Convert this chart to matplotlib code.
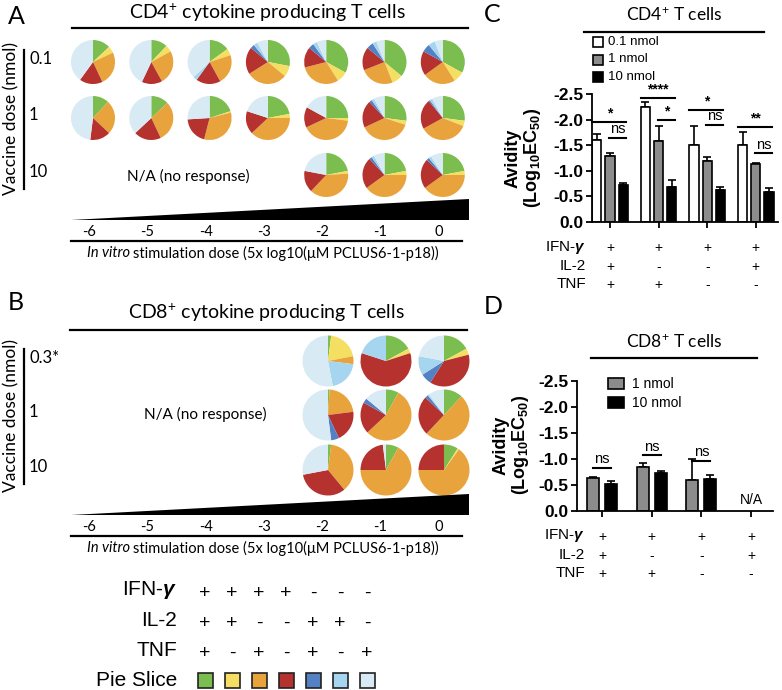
import numpy as np
import matplotlib.pyplot as plt
from matplotlib.patches import Rectangle, Polygon

# slice order: IFN/IL2/TNF combos, clockwise from 12 o'clock
SLICE_COLORS = ['#7cbd4f', '#f5df62', '#e9a33c', '#b5322f', '#5480c4', '#a5d5ef', '#d8eaf3']

# panel A pies (CD4), columns = stimulation dose -6 .. 0
DOSES = ['-6', '-5', '-4', '-3', '-2', '-1', '0']
A_01 = [[0.13, 0.05, 0.25, 0.17, 0.00, 0.00, 0.40],
        [0.12, 0.05, 0.25, 0.15, 0.00, 0.00, 0.43],
        [0.15, 0.05, 0.22, 0.18, 0.00, 0.03, 0.37],
        [0.28, 0.08, 0.30, 0.20, 0.03, 0.03, 0.08],
        [0.33, 0.08, 0.30, 0.15, 0.04, 0.03, 0.07],
        [0.36, 0.08, 0.25, 0.17, 0.05, 0.03, 0.06],
        [0.33, 0.08, 0.24, 0.18, 0.06, 0.05, 0.06]]
A_1 = [[0.12, 0.00, 0.25, 0.15, 0.00, 0.00, 0.48],
       [0.13, 0.00, 0.30, 0.20, 0.00, 0.00, 0.37],
       [0.20, 0.01, 0.33, 0.20, 0.00, 0.00, 0.26],
       [0.22, 0.03, 0.38, 0.17, 0.00, 0.00, 0.20],
       [0.25, 0.02, 0.41, 0.15, 0.00, 0.00, 0.17],
       [0.27, 0.03, 0.38, 0.20, 0.02, 0.02, 0.08],
       [0.27, 0.04, 0.36, 0.22, 0.01, 0.02, 0.08]]
A_10 = [None, None, None, None,
        [0.22, 0.02, 0.38, 0.16, 0.00, 0.00, 0.22],
        [0.22, 0.03, 0.40, 0.23, 0.02, 0.02, 0.08],
        [0.22, 0.03, 0.40, 0.22, 0.02, 0.02, 0.09]]

# panel B pies (CD8)
B_03 = [None, None, None, None,
        [0.02, 0.20, 0.05, 0.00, 0.00, 0.20, 0.53],
        [0.17, 0.03, 0.00, 0.60, 0.00, 0.20, 0.00],
        [0.17, 0.04, 0.00, 0.38, 0.07, 0.12, 0.22]]
B_1 = [None, None, None, None,
       [0.01, 0.00, 0.22, 0.20, 0.05, 0.00, 0.52],
       [0.08, 0.00, 0.55, 0.20, 0.03, 0.00, 0.14],
       [0.12, 0.00, 0.50, 0.25, 0.02, 0.01, 0.10]]
B_10 = [None, None, None, None,
        [0.02, 0.00, 0.37, 0.33, 0.00, 0.00, 0.28],
        [0.08, 0.00, 0.67, 0.23, 0.00, 0.00, 0.02],
        [0.09, 0.01, 0.65, 0.25, 0.00, 0.00, 0.00]]

# legend table under the pies
LEG_IFN = ['+', '+', '+', '+', '-', '-', '-']
LEG_IL2 = ['+', '+', '-', '-', '+', '+', '-']
LEG_TNF = ['+', '-', '+', '-', '+', '-', '+']

# panel C: CD4 avidity (log10 EC50), groups = cytokine combos
C_IFN = ['+', '+', '+', '+']
C_IL2 = ['+', '-', '-', '+']
C_TNF = ['+', '+', '-', '-']
C_NAMES = ['0.1 nmol', '1 nmol', '10 nmol']
C_COLORS = ['white', '#8c8c8c', 'black']
C_VALS = [[-1.61, -2.25, -1.50, -1.50],
          [-1.29, -1.58, -1.20, -1.14],
          [-0.73, -0.69, -0.62, -0.59]]
C_ERR = [[0.10, 0.09, 0.38, 0.25],
         [0.05, 0.29, 0.06, 0.02],
         [0.04, 0.13, 0.07, 0.08]]
# (group, first series, last series, line y, label)
C_SIG = [(0, 0, 2, -1.95, '*'), (0, 1, 2, -1.65, 'ns'),
         (1, 0, 2, -2.42, '****'), (1, 1, 2, -2.00, '*'),
         (2, 0, 2, -2.18, '*'), (2, 1, 2, -1.90, 'ns'),
         (3, 0, 2, -1.86, '**'), (3, 1, 2, -1.34, 'ns')]

# panel D: CD8 avidity
D_IFN = ['+', '+', '+', '+']
D_IL2 = ['+', '-', '-', '+']
D_TNF = ['+', '+', '-', '-']
D_NAMES = ['1 nmol', '10 nmol']
D_COLORS = ['#8c8c8c', 'black']
D_VALS = [[-0.63, -0.84, -0.59],
          [-0.52, -0.74, -0.62]]
D_ERR = [[0.03, 0.08, 0.41],
         [0.05, 0.03, 0.07]]
D_SIG = [(0, 0, 1, -0.83, 'ns'), (1, 0, 1, -1.07, 'ns'), (2, 0, 1, -0.97, 'ns')]

W, H = 782, 690
SANS = 'Lato'
ARIAL = 'Liberation Sans'

plt.rcParams['mathtext.fontset'] = 'custom'
plt.rcParams['mathtext.rm'] = ARIAL
plt.rcParams['mathtext.it'] = ARIAL + ':italic:bold'
plt.rcParams['mathtext.bf'] = ARIAL + ':bold'

fig = plt.figure(figsize=(W / 100, H / 100), dpi=100)
cv = fig.add_axes([0, 0, 1, 1])  # pixel canvas, y downwards
cv.set_xlim(0, W)
cv.set_ylim(H, 0)
renderer = fig.canvas.get_renderer()

col_x = [93 + 58.3 * i for i in range(7)]


def pie_panel(rows, row_labels, radius, pie_x, row_y):
    """Pie grid with the dose wedge and axis underneath"""
    for r, row in enumerate(rows):
        for c, vals in enumerate(row):
            if vals is None:
                continue
            cv.pie(vals, colors=SLICE_COLORS, startangle=-90, counterclock=True,
                   radius=radius, center=(pie_x[c], row_y[r]), frame=True,
                   wedgeprops=dict(linewidth=0))
    for r, lab in enumerate(row_labels):
        cv.text(29, row_y[r] - 3, lab, fontsize=12, family=SANS, va='center')
    cv.plot([24, 24], [row_y[0] - 12, row_y[-1] + 14], color='black', lw=1.6)
    cv.text(11, (row_y[0] + row_y[-1]) / 2, 'Vaccine dose (nmol)', rotation=90,
            fontsize=12.5, family=SANS, ha='center', va='center')
    # stimulation wedge
    wb = row_y[-1] + 45
    cv.add_patch(Polygon([(71, wb), (469, wb), (469, wb - 21)], closed=True,
                         color='black', lw=0))
    for c, d in enumerate(DOSES):
        cv.text(col_x[c] - 4, wb + 12, d, fontsize=10.5, family=SANS, ha='center', va='center')
    cv.plot([71, 462], [wb + 21, wb + 21], color='black', lw=1.6)
    t = cv.text(87, wb + 33, 'In vitro', fontsize=10.5, family=SANS, style='italic', va='center')
    bb = t.get_window_extent(renderer)
    cv.text(bb.x1 + 3, wb + 33, 'stimulation dose (5x log10(\u03bcM PCLUS6-1-p18))',
            fontsize=10.5, family=SANS, va='center')


# ---- panel A ----
cv.text(8, 16, 'A', fontsize=18, family=SANS, va='center')
cv.text(267, 13, 'CD4$^{+}$ cytokine producing T cells', fontsize=14, family=SANS,
        ha='center', va='center')
cv.plot([72, 468], [28, 28], color='black', lw=1.6)
pie_panel([A_01, A_1, A_10], ['0.1', '1', '10'], 22, col_x, [62, 118, 175])
cv.text(188, 176, 'N/A (no response)', fontsize=11, family=SANS, ha='center', va='center')

# ---- panel B ----
cv.text(8, 302, 'B', fontsize=18, family=SANS, va='center')
cv.text(266, 313, 'CD8$^{+}$ cytokine producing T cells', fontsize=14, family=SANS,
        ha='center', va='center')
cv.plot([70, 467], [330, 330], color='black', lw=1.6)
pie_panel([B_03, B_1, B_10], ['0.3*', '1', '10'], 25.5,
          col_x[:4] + [328, 386, 444], [361, 415, 470])
cv.text(205, 414, 'N/A (no response)', fontsize=11, family=SANS, ha='center', va='center')

# ---- pie slice legend ----
leg_x = [205 + 27 * i for i in range(7)]
for y, lab, signs in [(590, r'IFN-$\gamma$', LEG_IFN), (620, 'IL-2', LEG_IL2), (650, 'TNF', LEG_TNF)]:
    cv.text(177, y, lab, fontsize=15, family=ARIAL, ha='right', va='center')
    for x, s in zip(leg_x, signs):
        cv.text(x, y + 3, s, fontsize=14, family=ARIAL, ha='center', va='center')
cv.text(177, 680, 'Pie Slice', fontsize=15, family=ARIAL, ha='right', va='center')
for x, col in zip(leg_x, SLICE_COLORS):
    cv.add_patch(Rectangle((x - 7.5, 672.5), 15, 15, facecolor=col, edgecolor='#222222', lw=1.2))

cv.set_xlim(0, W)
cv.set_ylim(H, 0)
cv.axis('off')


def bar_panel(rect, tick0, step, vals, errs, colors, offsets, width, sig, ifn, il2, tnf, lab_right):
    """Prism-style grouped bars on an inverted log10 EC50 axis"""
    left, top, right, bottom = rect
    ax = fig.add_axes([left / W, 1 - bottom / H, (right - left) / W, (bottom - top) / H])
    ngrp = len(ifn)
    for k, (v, e, col) in enumerate(zip(vals, errs, colors)):
        x = np.arange(len(v)) + offsets[k]
        ax.bar(x, v, width, color=col, edgecolor='black', lw=1.2, zorder=2)
        ax.errorbar(x, v, yerr=[e, np.zeros(len(e))], fmt='none', ecolor='black',
                    elinewidth=1.2, capsize=3, capthick=1.2, zorder=1)
    for g, a, b, y, lab in sig:
        if len(offsets) == 3:
            x0 = g + offsets[a] - (width / 2 if a == 0 else 0.02)
            x1 = g + offsets[b] + width / 3
        else:
            x0, x1 = g + offsets[a], g + offsets[b]
        ax.plot([x0, x1], [y, y], color='black', lw=1.5, clip_on=False)
        ax.text((x0 + x1) / 2, y - 0.03, lab, fontsize=10.5 if lab == 'ns' else 10,
                family=ARIAL, fontweight='normal' if lab == 'ns' else 'bold',
                ha='center', va='bottom', clip_on=False)
    ax.set_xlim((left - tick0) / step, (right - tick0) / step)
    ax.set_ylim(0, -2.5)
    ticks = np.arange(0, -2.51, -0.5)
    ax.set_yticks(ticks)
    ax.set_yticklabels(['%.1f' % t for t in ticks], fontsize=12.5, family=ARIAL, fontweight='bold')
    ax.set_xticks(range(ngrp))
    ax.set_xticklabels([])
    ax.tick_params(length=4, width=1.3, pad=2)
    for s in ['top', 'right']:
        ax.spines[s].set_visible(False)
    for s in ['left', 'bottom']:
        ax.spines[s].set_linewidth(1.3)
    ax.patch.set_alpha(0)
    # combination table under the axis
    gx = [ax.transData.transform((g, 0))[0] for g in range(ngrp)]
    for y, lab, signs in [(bottom + 25, r'IFN-$\gamma$', ifn), (bottom + 44, 'IL-2', il2),
                          (bottom + 62, 'TNF', tnf)]:
        fig.text(lab_right / W, 1 - y / H, lab, fontsize=11, family=ARIAL, ha='right', va='center')
        for x, s in zip(gx, signs):
            fig.text(x / W, 1 - (y + 1) / H, s, fontsize=10, family=ARIAL, ha='center', va='center')
    return ax


AVIDITY = 'Avidity\n(Log$_{\\mathbf{10}}$EC$_{\\mathbf{50}}$)'

# ---- panel C ----
cv.text(484, 14, 'C', fontsize=18, family=SANS, va='center')
cv.text(674, 15, 'CD4$^{+}$ T cells', fontsize=12.5, family=SANS, ha='center', va='center')
cv.plot([584, 764], [32, 32], color='black', lw=1.6)
for k, (name, col) in enumerate(zip(C_NAMES, C_COLORS)):
    cv.add_patch(Rectangle((593, 37 + 17.5 * k), 10, 10, facecolor=col, edgecolor='black', lw=1.2))
    cv.text(608, 42 + 17.5 * k, name, fontsize=9.5, family=ARIAL, va='center')
axc = bar_panel((592, 94, 778, 222), 610, 48.6, C_VALS, C_ERR, C_COLORS, [-0.27, 0, 0.27], 0.19,
                C_SIG, C_IFN, C_IL2, C_TNF, 586)
cv.text(524, 158, AVIDITY, rotation=90, fontsize=13, family=ARIAL, fontweight='bold',
        ha='center', va='center', multialignment='center', linespacing=1.0)

# ---- panel D ----
cv.text(484, 307, 'D', fontsize=18, family=SANS, va='center')
cv.text(674, 342, 'CD8$^{+}$ T cells', fontsize=12.5, family=SANS, ha='center', va='center')
cv.plot([591, 757], [358, 358], color='black', lw=1.6)
for k, (name, col) in enumerate(zip(D_NAMES, D_COLORS)):
    cv.add_patch(Rectangle((608, 378 + 19 * k), 16, 11, facecolor=col, edgecolor='black', lw=1.2))
    cv.text(632, 384 + 19 * k, name, fontsize=10, family=ARIAL, va='center')
axd = bar_panel((577, 381, 773, 511), 602, 49.7, D_VALS, D_ERR, D_COLORS, [-0.18, 0.18], 0.24,
                D_SIG, D_IFN, D_IL2, D_TNF, 585)
axd.text(3, -0.22, 'N/A', fontsize=10, family=ARIAL, ha='center', va='center')
cv.text(512, 445, AVIDITY, rotation=90, fontsize=13, family=ARIAL, fontweight='bold',
        ha='center', va='center', multialignment='center', linespacing=1.0)

fig.savefig('out.png', dpi=100)
